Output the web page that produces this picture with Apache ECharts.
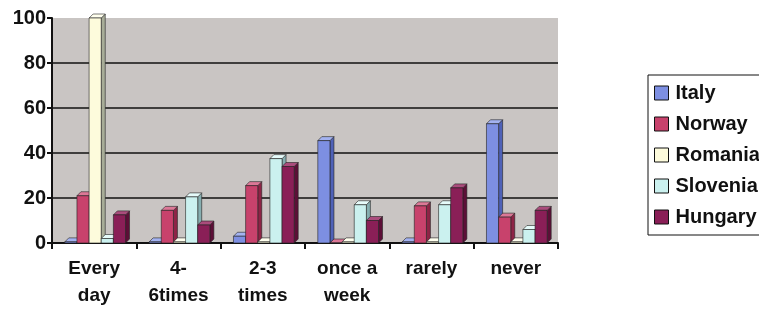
<!DOCTYPE html>
<html>
<head>
<meta charset="utf-8">
<script src="https://cdn.jsdelivr.net/npm/echarts@6/dist/echarts.min.js"></script>
<style>
  html, body { margin: 0; padding: 0; background: #fff; }
  #chart { width: 759px; height: 309px; }
</style>
</head>
<body>
<div id="chart"></div>
<script>
const categories = ["Every\nday", "4-\n6times", "2-3\ntimes", "once a\nweek", "rarely", "never"];
const yTicks = [0, 20, 40, 60, 80, 100];

const italy    = [0.5, 0.5, 3, 45.5, 0.5, 53];
const norway   = [21, 14.5, 25.5, 0, 16.5, 11.5];
const romania  = [100, 0.5, 0.5, 0.5, 0.5, 0.5];
const slovenia = [2, 20.5, 37.5, 17, 17, 6];
const hungary  = [12.5, 8, 34, 10, 24.5, 14.5];

const countries = [
  { name: "Italy",    data: italy,    front: "#7d8fe2", top: "#a3b2f0", side: "#4f62b8" },
  { name: "Norway",   data: norway,   front: "#c8426c", top: "#dc7897", side: "#8e2446" },
  { name: "Romania",  data: romania,  front: "#fdfbdc", top: "#ffffee", side: "#a8ad98" },
  { name: "Slovenia", data: slovenia, front: "#cbf1ef", top: "#e6fbfa", side: "#86aeb0" },
  { name: "Hungary",  data: hungary,  front: "#8a1f57", top: "#aa4c7c", side: "#5c0f37" }
];

const chart = echarts.init(document.getElementById('chart'));

function makeRender(idx, c) {
  return function (params, api) {
    const cat = api.value(0);
    const val = api.value(1);
    const band = api.size([1, 0])[0];
    const bw = band * 0.72 / countries.length;
    const center = api.coord([cat, 0]);
    const topPt = api.coord([cat, val]);
    const x0 = center[0] - bw * countries.length / 2 + idx * bw + 1;
    const y0 = center[1];
    const y1 = topPt[1];
    const d = 4;
    const stroke = { stroke: "#222", lineWidth: 0.6 };
    return {
      type: 'group',
      children: [
        { type: 'polygon', shape: { points: [[x0 + bw, y0], [x0 + bw + d, y0 - d], [x0 + bw + d, y1 - d], [x0 + bw, y1]] },
          style: Object.assign({ fill: c.side }, stroke) },
        { type: 'polygon', shape: { points: [[x0, y1], [x0 + d, y1 - d], [x0 + bw + d, y1 - d], [x0 + bw, y1]] },
          style: Object.assign({ fill: c.top }, stroke) },
        { type: 'rect', shape: { x: x0, y: y1, width: bw, height: y0 - y1 },
          style: Object.assign({ fill: c.front }, stroke) }
      ]
    };
  };
}

chart.setOption({
  animation: false,
  textStyle: { fontFamily: "Liberation Sans, Arial, sans-serif" },
  grid: {
    left: 52, right: 201, top: 18, bottom: 63,
    show: true, backgroundColor: "#c9c5c3", borderWidth: 0
  },
  legend: {
    orient: "vertical",
    left: 648, top: 75,
    padding: [8, 20, 8, 6],
    itemGap: 11,
    itemWidth: 14, itemHeight: 14,
    borderColor: "#111", borderWidth: 1,
    backgroundColor: "#fff",
    icon: "rect",
    textStyle: { fontSize: 20, lineHeight: 20, fontWeight: "bold", color: "#111", padding: [0, 0, 0, 2] },
    data: countries.map(c => ({ name: c.name, itemStyle: { color: c.front, borderColor: "#111", borderWidth: 1 } }))
  },
  xAxis: {
    type: "category",
    data: categories,
    axisLine: { lineStyle: { color: "#111", width: 2 } },
    axisTick: { show: true, length: 6, lineStyle: { color: "#111", width: 2 } },
    axisLabel: { fontSize: 19, fontWeight: "bold", color: "#111", margin: 12, lineHeight: 27, interval: 0 },
    splitLine: { show: false }
  },
  yAxis: {
    type: "value",
    min: 0, max: 100, interval: 20,
    axisLine: { show: true, lineStyle: { color: "#111", width: 2 } },
    axisTick: { show: true, length: 5, lineStyle: { color: "#111", width: 2 } },
    axisLabel: {
      fontSize: 20, fontWeight: "bold", color: "#111", margin: 6,
      formatter: v => yTicks.includes(v) ? String(v) : ""
    },
    splitLine: {
      show: true,
      lineStyle: { color: ["#111", "#111", "#111", "#111", "#111", "rgba(0,0,0,0)"], width: 1.5 }
    }
  },
  series: countries.map((c, i) => ({
    name: c.name,
    type: "custom",
    itemStyle: { color: c.front },
    renderItem: makeRender(i, c),
    encode: { x: 0, y: 1 },
    data: c.data.map((v, k) => [k, v])
  }))
});
</script>
</body>
</html>
